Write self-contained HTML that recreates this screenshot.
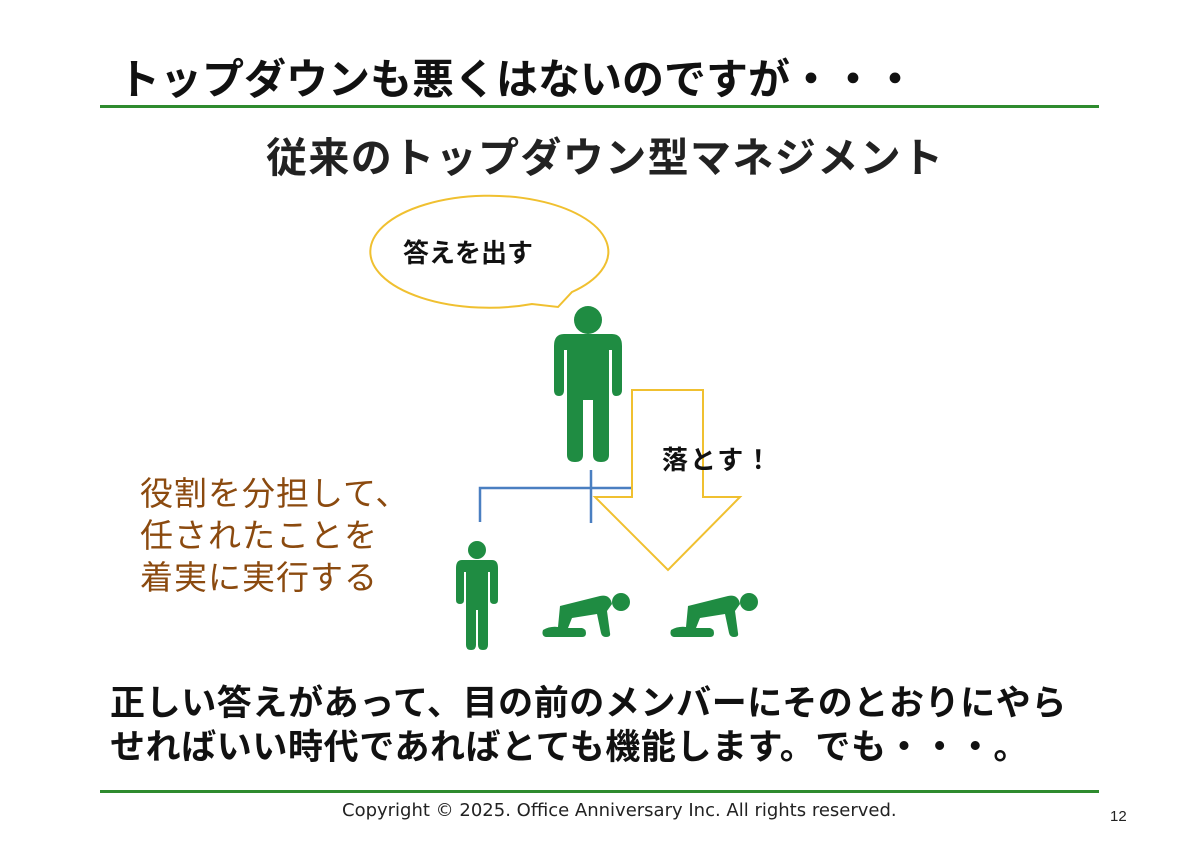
<!DOCTYPE html>
<html><head><meta charset="utf-8"><style>
body{margin:0;width:1200px;height:849px;background:#fff;position:relative;overflow:hidden;font-family:"Liberation Sans","Noto Sans CJK JP",sans-serif}
.t{position:absolute;white-space:nowrap}
</style></head><body>
<div class="t" style="left:118px;top:46px;font-size:42px;font-weight:bold;color:#111">トップダウンも悪くはないのですが・・・</div>
<div style="position:absolute;left:100px;top:105px;width:999px;height:3px;background:#2e8b2e"></div>
<div class="t" style="left:266px;top:124px;font-size:41px;letter-spacing:1.4px;font-weight:bold;color:#222">従来のトップダウン型マネジメント</div>
<svg width="1200" height="849" style="position:absolute;left:0;top:0">
<path d="M532,304 A119,56 0 1 1 572,292 L558,307 Z" fill="#fff" stroke="#f0c030" stroke-width="2"/>
<text x="468" y="262" font-size="26" font-weight="bold" text-anchor="middle" font-family="Liberation Sans,Noto Sans CJK JP,sans-serif" fill="#111">答えを出す</text>
<g fill="#1f8c42">
<circle cx="588" cy="320" r="14"/>
<path d="M564,334 H612 Q622,334 622,346 V390 Q622,396 616,396 Q612,396 612,390 V350 H609 V455 Q609,462 601,462 Q593,462 593,455 V400 H583 V455 Q583,462 575,462 Q567,462 567,455 V350 H564 V390 Q564,396 559,396 Q554,396 554,390 V346 Q554,334 564,334Z"/>
<circle cx="477" cy="550" r="9"/>
<path d="M462,560 H492 Q498,560 498,568 V600 Q498,604 494,604 Q490,604 490,600 V572 H488 V645 Q488,650 483,650 Q478,650 478,645 V610 H476 V645 Q476,650 471,650 Q466,650 466,645 V572 H464 V600 Q464,604 460,604 Q456,604 456,600 V568 Q456,560 462,560Z"/>
<circle cx="621" cy="602" r="9"/>
<path d="M560,606 L600,596 Q610,594 612,604 L607,611 L610,633 Q611,637 606,637 Q602,637 601,633 L597,614 L572,618 L568,628 L582,628 Q586,629 586,633 Q586,637 582,637 L546,637 Q541,636 543,630 Q550,626 558,627 Z"/>
<circle cx="749" cy="602" r="9"/>
<path d="M688,606 L728,596 Q738,594 740,604 L735,611 L738,633 Q739,637 734,637 Q730,637 729,633 L725,614 L700,618 L696,628 L710,628 Q714,629 714,633 Q714,637 710,637 L674,637 Q669,636 671,630 Q678,626 686,627 Z"/>
</g>
<path d="M480,522 V488 H631 M591,470 V523" fill="none" stroke="#4a7fc1" stroke-width="2.5"/>
<path d="M632,390 H703 V497 H740 L668,570 L595,497 H632 Z" fill="none" stroke="#f0c030" stroke-width="2"/>
<text x="662" y="469" font-size="26" letter-spacing="2" font-weight="bold" font-family="Liberation Sans,Noto Sans CJK JP,sans-serif" fill="#111">落とす！</text>
</svg>
<div class="t" style="left:140px;top:473px;font-size:33px;letter-spacing:1px;line-height:42px;color:#8b4a0f">役割を分担して、<br>任されたことを<br>着実に実行する</div>
<div class="t" style="left:110px;top:682px;font-size:35px;letter-spacing:0.6px;line-height:44px;font-weight:bold;color:#111">正しい答えがあって、目の前のメンバーにそのとおりにやら<br>せればいい時代であればとても機能します。でも・・・。</div>
<div style="position:absolute;left:100px;top:790px;width:999px;height:3px;background:#2e8b2e"></div>
<div class="t" style="left:342px;top:800px;font-size:18px;font-family:'DejaVu Sans',sans-serif;color:#222">Copyright ©  2025. Office Anniversary Inc. All rights reserved.</div>
<div class="t" style="left:1110px;top:808px;font-size:15px;color:#222">12</div>
</body></html>
